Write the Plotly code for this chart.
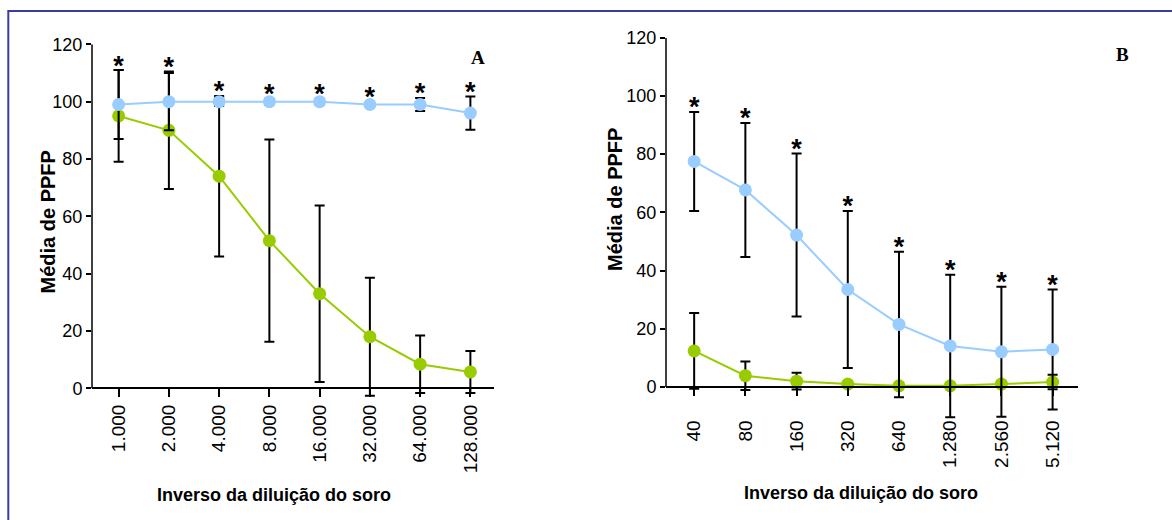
import plotly.graph_objects as go

W, H = 1172, 520

# ---- Data: panel A ----
cats_a = ["1.000", "2.000", "4.000", "8.000", "16.000", "32.000", "64.000", "128.000"]
blue_a = [99, 100, 100, 100, 100, 99, 99, 96]
blue_a_err = [12, 10, 1.5, 1, 1, 1, 2.3, 5.8]
green_a = [95, 90, 74, 51.5, 33, 18, 8.4, 5.7]
green_a_err = [16, 20.5, 28, 35.3, 30.8, 20.6, 10, 7.3]

# ---- Data: panel B ----
cats_b = ["40", "80", "160", "320", "640", "1.280", "2.560", "5.120"]
blue_b = [77.5, 67.7, 52.2, 33.5, 21.5, 14.1, 12.1, 12.9]
blue_b_err = [17, 23, 28, 27, 25, 24.5, 22.3, 20.6]
green_b = [12.4, 3.9, 2.0, 1.0, 0.4, 0.4, 1.0, 1.7]
green_b_err = [13, 4.9, 2.9, 1, 0.4, 0.4, 1, 2.5]

y_ticks = [0, 20, 40, 60, 80, 100, 120]

BLUE = "#99ccff"
GREEN = "#99cc00"
FONT = "Liberation Sans, Arial, sans-serif"
STAR_OFFSET = 0.8
Y_MIN, Y_MAX = -12, 120


def px_x(p):
    return p / W


def px_y(p):
    return 1 - p / H


def y_domain(py_zero, py_top):
    # pixel rows of y=0 and y=Y_MAX -> domain covering [Y_MIN, Y_MAX]
    per = (py_zero - py_top) / Y_MAX
    py_bottom = py_zero - Y_MIN * per
    return [px_y(py_bottom), px_y(py_top)], px_y(py_zero)


fig = go.Figure()


def add_panel(cats, blue, blue_err, green, green_err, xa, ya):
    for vals, errs, col in [(green, green_err, GREEN), (blue, blue_err, BLUE)]:
        fig.add_trace(go.Scatter(
            x=cats, y=vals, mode="lines+markers",
            line=dict(color=col, width=2),
            marker=dict(color=col, size=13),
            error_y=dict(type="data", array=errs, visible=True,
                         color="black", thickness=2, width=5),
            cliponaxis=False, showlegend=False, xaxis=xa, yaxis=ya,
        ))
    tops = [max(b + be, g + ge) for b, be, g, ge in zip(blue, blue_err, green, green_err)]
    fig.add_trace(go.Scatter(
        x=cats, y=[t + STAR_OFFSET for t in tops], mode="text", text=["*"] * len(cats),
        textposition="middle center",
        textfont=dict(family=FONT, size=27, color="black", weight="bold"),
        cliponaxis=False, showlegend=False, xaxis=xa, yaxis=ya,
    ))


add_panel(cats_a, blue_a, blue_a_err, green_a, green_a_err, "x", "y")
add_panel(cats_b, blue_b, blue_b_err, green_b, green_b_err, "x2", "y2")

dom_a, zero_a = y_domain(388.3, 44.3)
dom_b, zero_b = y_domain(387, 37.7)

xcommon = dict(
    type="category", showline=True, linecolor="black", linewidth=1.5,
    ticks="outside", ticklen=8, tickwidth=1.5, tickcolor="black",
    tickangle=-90, showgrid=False, zeroline=False, anchor="free", automargin=False,
    tickfont=dict(family=FONT, size=19, color="black"),
)
ycommon = dict(
    range=[Y_MIN, Y_MAX], tickvals=y_ticks, showline=False, automargin=False,
    ticks="outside", ticklen=5, tickwidth=1.5, tickcolor="black",
    showgrid=False, zeroline=False,
    tickfont=dict(family=FONT, size=18, color="black"),
)

fig.update_layout(
    width=W, height=H, autosize=False, margin=dict(l=0, r=0, t=0, b=0, pad=0),
    paper_bgcolor="white", plot_bgcolor="white",
    xaxis=dict(xcommon, domain=[px_x(92), px_x(494)], range=[-0.53, 7.47],
               position=zero_a, tickvals=cats_a, ticktext=cats_a),
    yaxis=dict(ycommon, domain=dom_a, anchor="x"),
    xaxis2=dict(xcommon, domain=[px_x(666), px_x(1077.7)], range=[-0.55, 7.49],
                position=zero_b, tickvals=cats_b, ticktext=cats_b, ticklabelstandoff=17),
    yaxis2=dict(ycommon, domain=dom_b, anchor="x2"),
)

# y-axis lines spanning 0..120 only
for xr, yr in [("x domain", "y"), ("x2 domain", "y2")]:
    fig.add_shape(type="line", xref=xr, yref=yr, x0=0, x1=0, y0=0, y1=Y_MAX,
                  line=dict(color="black", width=1.5))

ann_font = dict(family=FONT, size=18, color="black", weight="bold")
serif = dict(family="Liberation Serif, Times New Roman, serif", size=19, color="black", weight="bold")
annotations = [
    dict(text="Inverso da diluição do soro", x=px_x(274), y=px_y(495), font=ann_font),
    dict(text="Inverso da diluição do soro", x=px_x(861), y=px_y(493), font=ann_font),
    dict(text="Média de PPFP", x=px_x(47.5), y=px_y(222), textangle=-90,
         font=dict(ann_font, size=20)),
    dict(text="Média de PPFP", x=px_x(615), y=px_y(200), textangle=-90,
         font=dict(ann_font, size=20)),
    dict(text="A", x=px_x(478), y=px_y(57), font=serif),
    dict(text="B", x=px_x(1122), y=px_y(55), font=serif),
]
for a in annotations:
    a.update(xref="paper", yref="paper", showarrow=False, xanchor="center", yanchor="middle")
fig.update_layout(annotations=annotations)

fig.add_shape(type="rect", xref="paper", yref="paper",
              x0=px_x(8.3), y0=-0.05, x1=1.05, y1=px_y(11),
              line=dict(color="#3c3c9c", width=2), fillcolor="rgba(0,0,0,0)", layer="above")

fig.write_html(
    "out.html",
    config={"displayModeBar": False},
    post_script="document.body.style.margin='0';document.body.style.overflow='hidden';",
)
